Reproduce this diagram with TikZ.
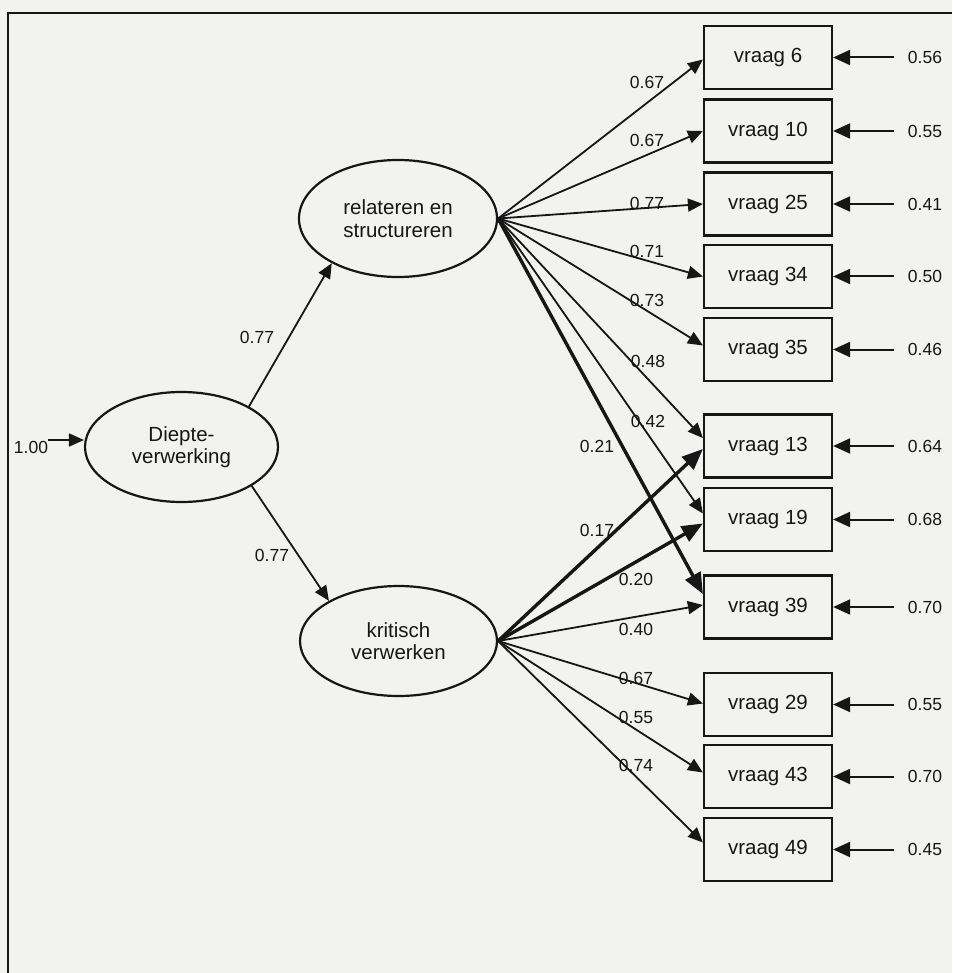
\documentclass[tikz,border=0pt]{standalone}
\usepackage{fontspec}
\setmainfont{Liberation Sans}
\usetikzlibrary{arrows.meta,shapes.geometric,calc}
\definecolor{paper}{RGB}{242,242,241}
\definecolor{ink}{RGB}{22,22,22}

\begin{document}
\begin{tikzpicture}[x=1pt,y=-1pt,
  item/.style={draw=ink,line width=2.2pt,rectangle,minimum width=128pt,
    minimum height=63pt,inner sep=0pt,text=ink,font=\fontsize{20.5}{23}\selectfont},
  latent/.style={draw=ink,line width=2.2pt,ellipse,inner sep=0pt,align=center,
    text=ink,font=\fontsize{20.5}{22.5}\selectfont},
  coef/.style={inner sep=0pt,text=ink,font=\fontsize{17.5}{17.5}\selectfont},
  load/.style={draw=ink,line width=1.8pt,-{Triangle[length=15pt,width=13pt]}},
  weak/.style={draw=ink,line width=3.4pt,-{Triangle[length=21pt,width=17pt]}},
  resid/.style={draw=ink,line width=2pt,-{Triangle[length=17pt,width=15pt]}},
]
% page and frame
\fill[paper] (0,0) rectangle (952,973);
\useasboundingbox (0,0) rectangle (952,973);
\draw[ink,line width=2pt] (8,973) -- (8,13) -- (952,13);

% latent factors
\node[latent,minimum width=193pt,minimum height=110pt] (dv) at (181.5,447) {Diepte-\\verwerking};
\node[latent,minimum width=198pt,minimum height=117pt] (rel) at (398,218.5) {relateren en\\structureren};
\node[latent,minimum width=197pt,minimum height=110pt] (kri) at (398.5,641) {kritisch\\verwerken};

% items with residual variances
\foreach \n/\y/\e in {6/57.5/0.56, 10/131/0.55, 25/204/0.41, 34/276.5/0.50,
    35/349.5/0.46, 13/446/0.64, 19/519.5/0.68, 39/607/0.70, 29/704.5/0.55,
    43/776.5/0.70, 49/849.5/0.45}{
  \node[item] (v\n) at (768,\y) {vraag \n};
  \node[coef] (e\n) at (925,\y) {\e};
  \draw[resid,shorten <=14pt] (e\n.west) -- (v\n.east);
}

% second-order structure
\coordinate (din) at (48,440);
\node[coef] (d0) at (31,447) {1.00};
\draw[load] (din) -- (dv.west |- din);
\draw[load] (dv.31) -- (rel.214);
\draw[load] (dv.-29) -- (kri.150);
\node[coef] (d1) at (257,337) {0.77};
\node[coef] (d2) at (272,555) {0.77};

% loadings of relateren en structureren
\draw[load] (rel.east) -- ($(v6.west)+(0,2)$);
\draw[load] (rel.east) -- (v10.west);
\draw[load] (rel.east) -- (v25.west);
\draw[load] (rel.east) -- (v34.west);
\draw[load] (rel.east) -- ($(v35.west)+(0,-4)$);
\draw[load] (rel.east) -- ($(v13.west)+(0,-8)$);
\draw[load] (rel.east) -- ($(v19.west)+(0,-6)$);
\draw[weak] (rel.east) -- ($(v39.west)+(0,-13)$);
\node[coef] (r1) at (647,82) {0.67};
\node[coef] (r2) at (647,140) {0.67};
\node[coef] (r3) at (647,203) {0.77};
\node[coef] (r4) at (647,251) {0.71};
\node[coef] (r5) at (647,300) {0.73};
\node[coef] (r6) at (648,361) {0.48};
\node[coef] (r7) at (648,421) {0.42};
\node[coef] (r8) at (597,446) {0.21};

% loadings of kritisch verwerken
\draw[weak] (kri.east) -- ($(v13.west)+(0,3)$);
\draw[weak] (kri.east) -- ($(v19.west)+(0,4)$);
\draw[load] (kri.east) -- ($(v39.west)+(0,-2)$);
\draw[load] (kri.east) -- ($(v29.west)+(0,-1)$);
\draw[load] (kri.east) -- ($(v43.west)+(0,-4)$);
\draw[load] (kri.east) -- ($(v49.west)+(0,-7)$);
\node[coef] (k1) at (597,530) {0.17};
\node[coef] (k2) at (636,579) {0.20};
\node[coef] (k3) at (636,629) {0.40};
\node[coef] (k4) at (636,678) {0.67};
\node[coef] (k5) at (636,717) {0.55};
\node[coef] (k6) at (636,765) {0.74};
\end{tikzpicture}
\end{document}
